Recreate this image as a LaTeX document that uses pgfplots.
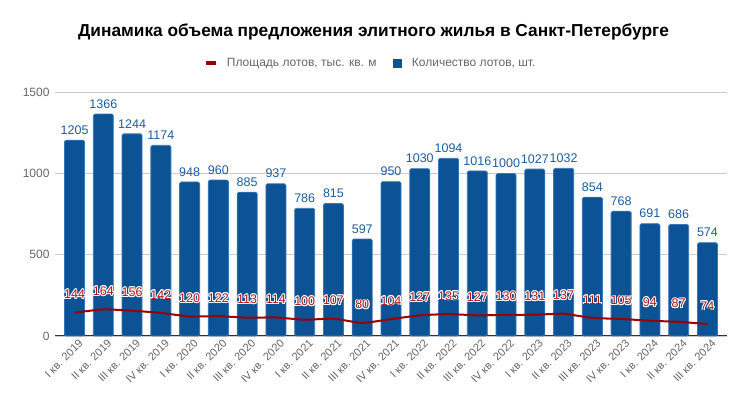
\documentclass[border=0pt]{standalone}
\usepackage{fontspec}
\setmainfont{Liberation Sans}
\usepackage{pgfplots}
\pgfplotsset{compat=1.18}
\usepackage[copies]{contour}
\contourlength{0.9pt}
\contournumber{12}
\definecolor{barblue}{HTML}{0B5394}
\definecolor{bardraw}{HTML}{3A75B8}
\definecolor{lblblue}{HTML}{1C5CA0}
\definecolor{linered}{HTML}{990000}
\definecolor{lblred}{HTML}{B01515}
\definecolor{tickgray}{HTML}{666666}
\pgfplotstableread{
x bars area
0 1205 144
1 1366 164
2 1244 156
3 1174 142
4 948 120
5 960 122
6 885 113
7 937 114
8 786 100
9 815 107
10 597 80
11 950 104
12 1030 127
13 1094 135
14 1016 127
15 1000 130
16 1027 131
17 1032 137
18 854 111
19 768 105
20 691 94
21 686 87
22 574 74
}\datatable
\begin{document}
\begin{tikzpicture}[x=1pt,y=1pt]
\useasboundingbox (0,0) rectangle (747,412);
\node[font=\fontsize{17.3}{20}\selectfont\bfseries] at (373.5,380) {Динамика объема предложения элитного жилья в Санкт-Петербурге};
\begin{axis}[
  at={(55pt,76pt)}, anchor=south west,
  scale only axis, width=672pt, height=243.7pt,
  xmin=-0.68, xmax=22.68, ymin=0, ymax=1500,
  ytick={0,500,1000,1500},
  /pgf/number format/assume math mode=true,
  /pgf/number format/1000 sep={},
  ymajorgrids, grid style={draw=black!20, line width=0.8pt},
  axis x line*=bottom, axis y line*=left,
  x axis line style={draw=black!80, line width=1pt, -},
  y axis line style={draw=none},
  xtick style={draw=none}, ytick style={draw=none},
  xtick=data,
  xticklabels={I кв. 2019,II кв. 2019,III кв. 2019,IV кв. 2019,I кв. 2020,II кв. 2020,III кв. 2020,IV кв. 2020,I кв. 2021,II кв. 2021,III кв. 2021,IV кв. 2021,I кв. 2022,II кв. 2022,III кв. 2022,IV кв. 2022,I кв. 2023,II кв. 2023,III кв. 2023,IV кв. 2023,I кв. 2024,II кв. 2024,III кв. 2024},
  xticklabel style={rotate=45, anchor=north east, font=\fontsize{11}{13}\selectfont, text=tickgray, xshift=4pt, yshift=-1pt},
  yticklabel style={font=\fontsize{12}{14}\selectfont, text=tickgray, xshift=-2pt},
  legend columns=2,
  legend style={at={(0.470,1.12)}, anchor=center, draw=none, fill=none,
    font=\fontsize{12}{14}\selectfont, text=tickgray,
    /tikz/every even column/.append style={column sep=14pt}},
  clip=false,
]
\addlegendimage{legend image code/.code={\draw[linered, line width=3.5pt] (0pt,0pt) -- (10pt,0pt); \path[draw=none,fill=none] (0pt,0pt) rectangle (19pt,0.1pt);}}
\addlegendentry{Площадь лотов, тыс. кв. м}
\addlegendimage{legend image code/.code={\fill[barblue] (0pt,-4pt) rectangle (8pt,4pt); \path[draw=none,fill=none] (0pt,0pt) rectangle (17pt,0.1pt);}}
\addlegendentry{Количество лотов, шт.}
\addplot[ybar, bar width=20pt, fill=barblue, draw=bardraw, line width=0.8pt, rounded corners=1.5pt, forget plot,
  nodes near coords, every node near coord/.append style={font=\fontsize{12.5}{14}\selectfont, text=lblblue, yshift=2pt}]
  table[x=x, y=bars] {\datatable};
\addplot[linered, line width=2pt, smooth, tension=0.25, mark=none, forget plot,
  nodes near coords={\contour{white}{\pgfmathprintnumber{\pgfplotspointmeta}}},
  every node near coord/.append style={font=\fontsize{12.5}{14}\selectfont, text=lblred, yshift=11pt, anchor=south, inner sep=1pt}]
  table[x=x, y=area] {\datatable};
\end{axis}
\end{tikzpicture}
\end{document}
